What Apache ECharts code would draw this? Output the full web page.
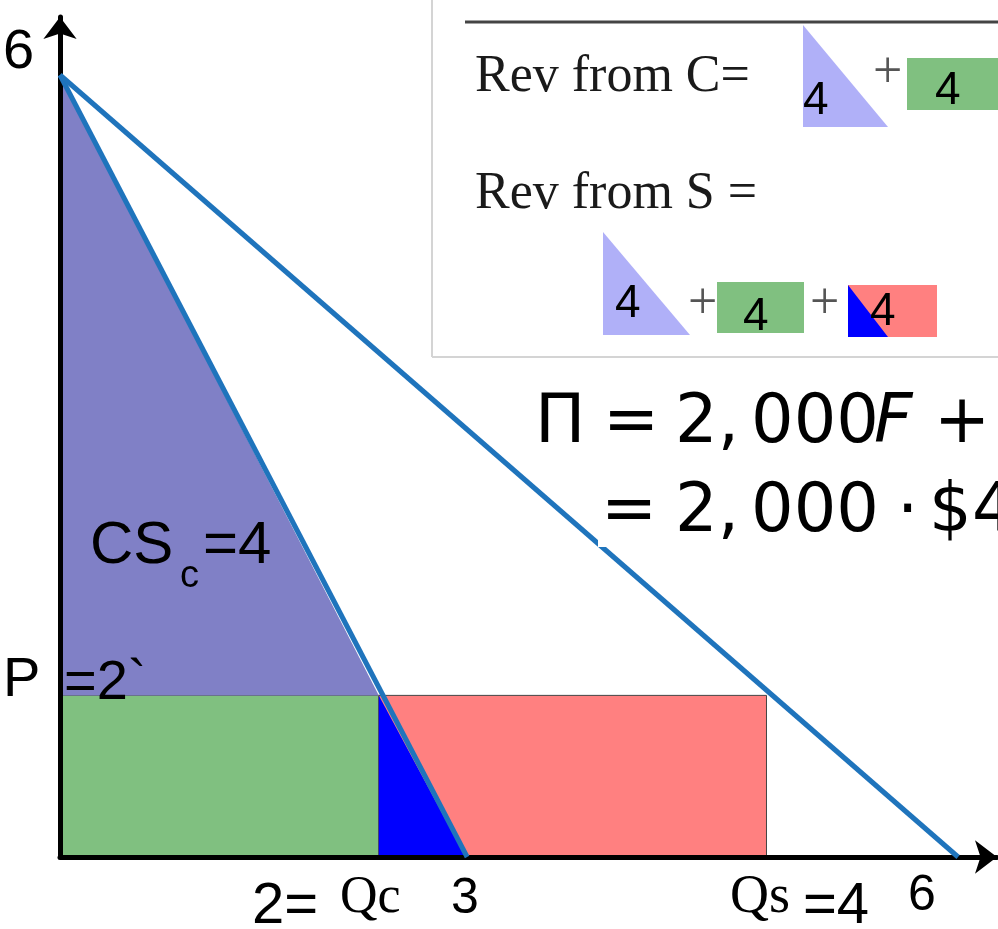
<!DOCTYPE html>
<html>
<head>
<meta charset="utf-8">
<title>Price discrimination diagram</title>
<script src="https://cdn.jsdelivr.net/npm/echarts@6/dist/echarts.min.js"></script>
</head>
<body style="margin:0;background:#fff">
<div id="container" style="width:998px;height:929px"></div>
<script type="text/javascript">
// demand lines (quantity, price) as drawn
var demandTotal = [[0, 6], [6, 0]];
var demandC = [[0, 6], [2.72, 0]];

// shaded areas (vertices in quantity/price units)
var csTriangle = [[0, 6], [0, 1.24], [2.13, 1.24]];
var revRectC = [[0, 0], [2.13, 0], [2.13, 1.24], [0, 1.24]];
var revRectS = [[2.13, 0], [4.72, 0], [4.72, 1.24], [2.13, 1.24]];
var dwlTriangle = [[2.13, 1.24], [2.13, 0], [2.71, 0]];

// text on the picture
var yTopLabel = '6';
var priceLabel = ['P', '=2`'];
var csLabel = ['CS', 'c', '=4'];
var qLabels = ['2=', 'Qc', '3', 'Qs', '=4', '6'];
var revC = 'Rev from C=';
var revS = 'Rev from S =';
var areaValue = '4';
var profitLine1 = ['\u03A0', '=', '2,', '000', 'F', '+'];
var profitLine2 = ['=', '2,', '000', '\u00B7', '$', '4'];

var SANS = '"Liberation Sans", Arial, sans-serif';
var SERIF = '"Liberation Serif", "Times New Roman", serif';
var MATH = '"DejaVu Sans", sans-serif';

var shapes = [
    { pts: revRectC, fill: '#80c080', stroke: '#445544', lw: 1 },
    { pts: revRectS, fill: '#ff8080', stroke: '#444', lw: 1 },
    { pts: dwlTriangle, fill: '#0000ff', stroke: null, lw: 0 },
    { pts: csTriangle, fill: '#8080c6', stroke: null, lw: 0 }
];

// text placed by its baseline
function txt(str, x, base, size, family, extra) {
    var font = (extra && extra.italic ? 'italic ' : '') + size + 'px ' + family;
    return {
        type: 'text',
        x: x,
        y: base - 0.345 * size,
        z: 30,
        style: {
            text: str,
            font: font,
            fill: (extra && extra.color) || '#000',
            textAlign: 'left',
            textVerticalAlign: 'middle',
            align: 'left',
            verticalAlign: 'middle'
        }
    };
}

function poly(points, fill) {
    return { type: 'polygon', z: 20, shape: { points: points }, style: { fill: fill } };
}

function box(x, y, w, h, fill) {
    return { type: 'rect', z: 20, shape: { x: x, y: y, width: w, height: h }, style: { fill: fill } };
}

var graphics = [
    // formula box
    { type: 'line', z: 20, shape: { x1: 432, y1: 0, x2: 432, y2: 357 }, style: { stroke: '#d4d4d4', lineWidth: 2 } },
    { type: 'line', z: 20, shape: { x1: 432, y1: 357, x2: 998, y2: 357 }, style: { stroke: '#d4d4d4', lineWidth: 2 } },
    { type: 'line', z: 20, shape: { x1: 465, y1: 22, x2: 998, y2: 22 }, style: { stroke: '#444', lineWidth: 3 } },
    txt(revC, 475, 95, 52, SERIF, { color: '#1a1a1a' }),
    poly([[803, 25], [803, 127], [888, 127]], '#b0b0f8'),
    txt(areaValue, 803, 117, 46, SANS),
    txt('+', 873, 91, 52, SERIF, { color: '#555' }),
    box(907, 58, 91, 52, '#80c080'),
    txt(areaValue, 935, 107, 46, SANS),
    txt(revS, 475, 212, 52, SERIF, { color: '#1a1a1a' }),
    poly([[603, 232], [603, 335], [690, 335]], '#b0b0f8'),
    txt(areaValue, 615, 320, 46, SANS),
    txt('+', 688, 322, 52, SERIF, { color: '#555' }),
    box(717, 282, 87, 51, '#80c080'),
    txt(areaValue, 743, 333, 46, SANS),
    txt('+', 810, 322, 52, SERIF, { color: '#555' }),
    box(848, 285, 89, 52, '#ff8080'),
    poly([[848, 285], [848, 337], [888, 337]], '#0000ff'),
    txt(areaValue, 870, 328, 46, SANS),

    // profit formula
    box(598, 478, 400, 69, '#fff'),
    txt(profitLine1[0], 535, 448, 67, MATH),
    txt(profitLine1[1], 603, 448, 67, MATH),
    txt(profitLine1[2], 675, 448, 67, MATH),
    txt(profitLine1[3], 751, 448, 67, MATH),
    txt(profitLine1[4], 874, 448, 67, MATH, { italic: true }),
    txt(profitLine1[5], 934, 448, 67, MATH),
    txt(profitLine2[0], 601, 537, 67, MATH),
    txt(profitLine2[1], 675, 537, 67, MATH),
    txt(profitLine2[2], 751, 537, 67, MATH),
    txt(profitLine2[3], 897, 537, 67, MATH),
    txt(profitLine2[4], 929, 537, 67, MATH),
    txt(profitLine2[5], 972, 537, 67, MATH),

    // axis labels
    txt(yTopLabel, 3, 72, 56, SANS),
    txt(priceLabel[0], 3, 700, 56, SANS),
    txt(priceLabel[1], 64, 703, 56, SANS),
    txt(csLabel[0], 90, 567, 60, SANS),
    txt(csLabel[1], 180, 590, 38, SANS),
    txt(csLabel[2], 203, 567, 60, SANS),
    txt(qLabels[0], 252, 927, 58, SANS),
    txt(qLabels[1], 340, 916, 52, SERIF),
    txt(qLabels[2], 451, 916, 50, SANS),
    txt(qLabels[3], 730, 916, 54, SERIF),
    txt(qLabels[4], 803, 927, 58, SANS),
    txt(qLabels[5], 908, 913, 50, SANS)
];

var myChart = echarts.init(document.getElementById('container'));

var axisCommon = {
    type: 'value',
    min: 0,
    z: 5,
    axisLine: {
        show: true,
        symbol: ['none', 'arrow'],
        symbolSize: [25, 22],
        lineStyle: { color: '#000', width: 5 }
    },
    axisTick: { show: false },
    axisLabel: { show: false },
    splitLine: { show: false }
};

var option = {
    animation: false,
    backgroundColor: '#fff',
    grid: { left: 60, top: 17, right: 1, bottom: 72 },
    xAxis: Object.assign({}, axisCommon, { max: 6.26 }),
    yAxis: Object.assign({}, axisCommon, { max: 6.445 }),
    series: [
        {
            type: 'custom',
            z: 2,
            renderItem: function (params, api) {
                var s = shapes[params.dataIndex];
                return {
                    type: 'polygon',
                    shape: { points: s.pts.map(function (p) { return api.coord(p); }) },
                    style: { fill: s.fill, stroke: s.stroke, lineWidth: s.lw }
                };
            },
            data: shapes.map(function (s) { return s.pts[0]; })
        },
        {
            name: 'Demand C',
            type: 'line',
            z: 8,
            symbol: 'none',
            lineStyle: { color: '#1f74bc', width: 5 },
            data: demandC
        },
        {
            name: 'Demand total',
            type: 'line',
            z: 8,
            symbol: 'none',
            lineStyle: { color: '#1f74bc', width: 5 },
            data: demandTotal
        }
    ],
    graphic: graphics
};

myChart.setOption(option);
</script>
</body>
</html>
